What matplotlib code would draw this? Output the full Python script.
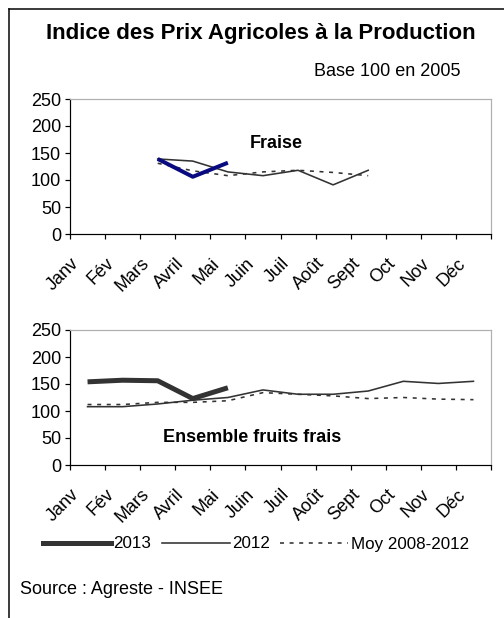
import numpy as np
import matplotlib
matplotlib.use("Agg")
import matplotlib.pyplot as plt
import matplotlib.transforms as mtransforms
from matplotlib.lines import Line2D

plt.rcParams['font.family'] = ['Liberation Sans', 'DejaVu Sans']

# Données
mois = ["Janv", "Fév", "Mars", "Avril", "Mai", "Juin", "Juil", "Août",
        "Sept", "Oct", "Nov", "Déc"]

# Fraise (Mars à Sept)
fraise_2013 = [np.nan, np.nan, 139, 106, 132] + [np.nan] * 7
fraise_2012 = [np.nan, np.nan, 139, 135, 115, 108, 118, 91, 118] + [np.nan] * 3
fraise_moy = [np.nan, np.nan, 131, 117, 108, 115, 118, 114, 108] + [np.nan] * 3

# Ensemble fruits frais
fruits_2013 = [154, 157, 156, 123, 143] + [np.nan] * 7
fruits_2012 = [108, 108, 113, 120, 125, 139, 131, 131, 137, 155, 151, 155]
fruits_moy = [112, 112, 116, 116, 119, 134, 131, 128, 123, 125, 122, 121]

W, H = 504, 618
fig = plt.figure(figsize=(W / 72, H / 72), dpi=72)

gris = "#333333"
fs = 18


def panneau(rect, s2013, s2012, smoy, couleur_2013, lw_2013, etiquette, pos_etiq):
    ax = fig.add_axes(rect)
    x = np.arange(12)
    ax.plot(x, s2012, color=gris, lw=1.6)
    ax.plot(x, smoy, color=gris, lw=1.6, dashes=(2.5, 3.5))
    ax.plot(x, s2013, color=couleur_2013, lw=lw_2013, solid_capstyle="butt")
    ax.set_xlim(-0.5, 11.5)
    ax.set_ylim(0, 250)
    ax.set_yticks([0, 50, 100, 150, 200, 250])
    ax.set_xticks(x)
    ax.set_xticklabels(mois, rotation=45, ha="right", va="top")
    ax.set_xticks(np.arange(-0.5, 12, 1), minor=True)
    ax.tick_params(axis="x", which="major", length=0, pad=21, labelsize=fs)
    ax.tick_params(axis="x", which="minor", length=5, width=1.2, direction="out")
    ax.tick_params(axis="y", length=5, width=1.2, pad=4, labelsize=fs)
    decal = mtransforms.ScaledTranslation(-5 / 72, 0, fig.dpi_scale_trans)
    for lab in ax.get_xticklabels():
        lab.set_transform(lab.get_transform() + decal)
    for s in ["top", "right"]:
        ax.spines[s].set_color("#b0b0b0")
        ax.spines[s].set_linewidth(1.2)
    for s in ["left", "bottom"]:
        ax.spines[s].set_linewidth(1.2)
    ax.text(pos_etiq[0], pos_etiq[1], etiquette, fontsize=fs, fontweight="bold",
            ha="center", va="center")
    return ax


panneau([70 / W, 1 - 234 / H, 421 / W, 135 / H], fraise_2013, fraise_2012, fraise_moy,
        "#0a0a80", 4, "Fraise", (5.37, 168))
panneau([70 / W, 1 - 465 / H, 421 / W, 135 / H], fruits_2013, fruits_2012, fruits_moy,
        gris, 5, "Ensemble fruits frais", (4.68, 50))

# Textes
fig.text(261 / W, 1 - 33 / H, "Indice des Prix Agricoles à la Production",
         fontsize=22.3, fontweight="bold", ha="center", va="center")
fig.text(460 / W, 1 - 72 / H, "Base 100 en 2005", fontsize=fs, ha="right", va="center")
fig.text(20 / W, 1 - 590 / H, "Source : Agreste - INSEE", fontsize=fs, ha="left", va="center")

# Légende
poignees = [Line2D([], [], color=gris, lw=5),
            Line2D([], [], color=gris, lw=1.6),
            Line2D([], [], color=gris, lw=1.6, dashes=(2.5, 3.5))]
fig.legend(poignees, ["2013", "2012", "Moy 2008-2012"], loc="center",
           bbox_to_anchor=(256 / W, 1 - 544 / H), ncol=3, frameon=False,
           fontsize=17, handlelength=4.0, handletextpad=0.15, columnspacing=0.6)

# Cadre
fig.add_artist(Line2D([9 / W, 1], [1 - 9 / H, 1 - 9 / H], color="black", lw=1.5))
fig.add_artist(Line2D([9 / W, 9 / W], [0, 1 - 9 / H], color="black", lw=1.5))

fig.savefig("out.png", dpi=72)
